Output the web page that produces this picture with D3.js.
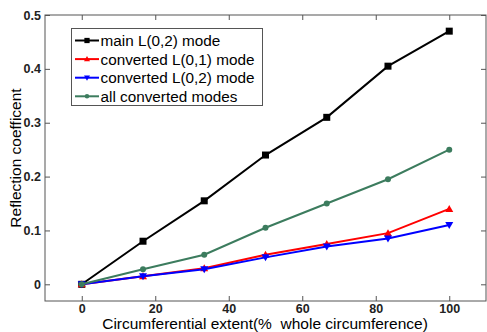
<!DOCTYPE html>
<html><head><meta charset="utf-8">
<script src="https://cdn.jsdelivr.net/npm/d3@7"></script>
<style>body{margin:0;background:#fff}svg{display:block}</style>
</head><body>
<script>
const xValues = [0, 16.67, 33.33, 50, 66.67, 83.33, 100];
const mainL02 = [0, 0.08, 0.155, 0.24, 0.31, 0.405, 0.47];
const convL01 = [0, 0.015, 0.03, 0.055, 0.075, 0.095, 0.14];
const convL02 = [0, 0.015, 0.028, 0.05, 0.07, 0.085, 0.11];
const allConv = [0, 0.028, 0.055, 0.105, 0.15, 0.195, 0.25];
const xTicks = [0, 20, 40, 60, 80, 100];
const yTicks = [0, 0.1, 0.2, 0.3, 0.4, 0.5];
const seriesNames = ["main L(0,2) mode", "converted L(0,1) mode", "converted L(0,2) mode", "all converted modes"];

const W = 487, H = 332;
const m = {left: 45, right: 1, top: 15, bottom: 31};
const svg = d3.select("body").append("svg").attr("width", W).attr("height", H);
const x = d3.scaleLinear().domain([-10, 110]).range([m.left, W - m.right]);
const y = d3.scaleLinear().domain([-0.031, 0.5]).range([H - m.bottom, m.top]);
const font = "Liberation Sans, Arial, sans-serif";

svg.append("rect").attr("x", m.left).attr("y", m.top)
  .attr("width", W - m.right - m.left).attr("height", H - m.bottom - m.top)
  .attr("fill", "none").attr("stroke", "#555").attr("stroke-width", 1);

const xAxis = svg.append("g").attr("transform", `translate(0,${H - m.bottom})`)
  .call(d3.axisBottom(x).tickValues(xTicks).tickSize(-5).tickPadding(3).tickFormat(d3.format("d")));
const xTop = svg.append("g").attr("transform", `translate(0,${m.top})`)
  .call(d3.axisTop(x).tickValues(xTicks).tickSize(-5).tickFormat(""));
const yAxis = svg.append("g").attr("transform", `translate(${m.left},0)`)
  .call(d3.axisLeft(y).tickValues(yTicks).tickSize(-5).tickPadding(4).tickFormat(d => d === 0 ? "0" : d3.format(".1f")(d)));
const yRight = svg.append("g").attr("transform", `translate(${W - m.right},0)`)
  .call(d3.axisRight(y).tickValues(yTicks).tickSize(-5).tickFormat(""));
[xAxis, xTop, yAxis, yRight].forEach(g => {
  g.select(".domain").remove();
  g.selectAll("line").attr("stroke", "#555");
  g.selectAll("text").attr("font-family", font).attr("font-size", 12.5).attr("font-weight", "bold").attr("fill", "#222");
});

const series = [
  {name: seriesNames[0], vals: mainL02, color: "#000000", marker: "square"},
  {name: seriesNames[1], vals: convL01, color: "#ff0000", marker: "up"},
  {name: seriesNames[2], vals: convL02, color: "#0000ff", marker: "down"},
  {name: seriesNames[3], vals: allConv, color: "#3c7c5e", marker: "circle"}
];

function drawMarker(g, type, cx, cy, color, k) {
  k = k || 1;
  if (type === "square") {
    g.append("rect").attr("x", cx - 3.5 * k).attr("y", cy - 3.5 * k).attr("width", 7 * k).attr("height", 7 * k).attr("fill", color);
  } else if (type === "circle") {
    g.append("circle").attr("cx", cx).attr("cy", cy).attr("r", 3 * k).attr("fill", color);
  } else if (type === "up") {
    g.append("path").attr("d", `M${cx},${cy-4*k}L${cx+4*k},${cy+3*k}L${cx-4*k},${cy+3*k}Z`).attr("fill", color);
  } else {
    g.append("path").attr("d", `M${cx},${cy+4*k}L${cx+4*k},${cy-3*k}L${cx-4*k},${cy-3*k}Z`).attr("fill", color);
  }
}

const line = d3.line().x(d => x(d[0])).y(d => y(d[1]));
series.forEach(s => {
  const pts = xValues.map((xv, i) => [xv, s.vals[i]]);
  const g = svg.append("g");
  g.append("path").attr("d", line(pts)).attr("fill", "none").attr("stroke", s.color).attr("stroke-width", 2);
  pts.forEach(p => drawMarker(g, s.marker, x(p[0]), y(p[1]), s.color));
});

const lg = svg.append("g");
lg.append("rect").attr("x", 71.5).attr("y", 28.5).attr("width", 191).attr("height", 77)
  .attr("fill", "#fff").attr("stroke", "#555").attr("stroke-width", 1);
series.forEach((s, i) => {
  const ly = 40.5 + i * 18.6;
  lg.append("line").attr("x1", 75).attr("x2", 99).attr("y1", ly).attr("y2", ly).attr("stroke", s.color).attr("stroke-width", 2);
  drawMarker(lg, s.marker, 87, ly, s.color, 0.75);
  lg.append("text").attr("x", 100.5).attr("y", ly + 5.5).attr("font-family", font).attr("font-size", 15.3)
    .attr("fill", "#000").text(s.name);
});

svg.append("text").attr("x", 265).attr("y", 329).attr("text-anchor", "middle")
  .attr("font-family", font).attr("font-size", 15.5).attr("fill", "#000").style("white-space", "pre")
  .text("Circumferential extent(%  whole circumference)");
svg.append("text").attr("transform", `translate(21,${(m.top + H - m.bottom) / 2}) rotate(-90)`).attr("text-anchor", "middle")
  .attr("font-family", font).attr("font-size", 15.5).attr("fill", "#000").text("Reflection coefficent");
</script>
</body></html>
